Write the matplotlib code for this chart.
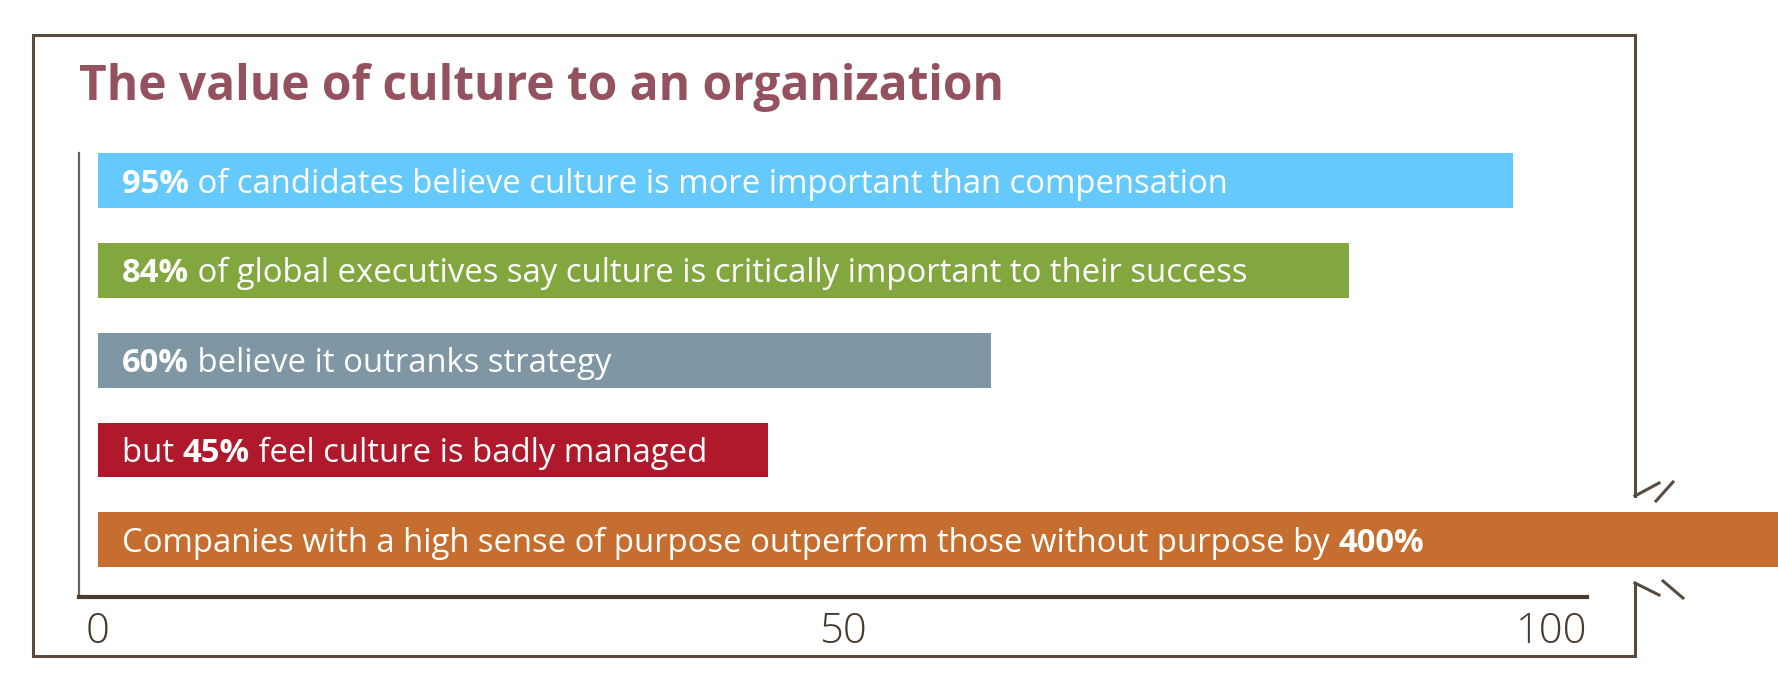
import matplotlib
matplotlib.use("Agg")
import matplotlib.pyplot as plt

# data
values = [95, 84, 60, 45, 400]
colors = ['#66c9fc', '#83a73f', '#7f96a4', '#b0182b', '#c66e30']
segments = [
    [("95%", True), (" of candidates believe culture is more important than compensation", False)],
    [("84%", True), (" of global executives say culture is critically important to their success", False)],
    [("60%", True), (" believe it outranks strategy", False)],
    [("but ", False), ("45%", True), (" feel culture is badly managed", False)],
    [("Companies with a high sense of purpose outperform those without purpose by ", False), ("400%", True)],
]
tick_vals = [0, 50, 100]
tick_labels = ['0', '50', '100']
title = 'The value of culture to an organization'

W, H = 1778, 691
fig = plt.figure(figsize=(W / 100, H / 100), dpi=100)
fig.patch.set_facecolor('white')

# frame drawn in pixel coordinates on an overlay
frame = fig.add_axes([0, 0, 1, 1], zorder=0)
frame.set_xlim(0, W)
frame.set_ylim(H, 0)
frame.axis('off')
fc = '#5a4b3f'
lw = 2.2
frame.plot([1635, 1635, 33, 33, 1635, 1635], [496, 35, 35, 656, 656, 583], color=fc, lw=lw,
           solid_joinstyle='miter')
frame.plot([1635, 1659], [496, 483], color=fc, lw=lw)
frame.plot([1656, 1673], [501, 482], color=fc, lw=lw)
frame.plot([1635, 1659], [583, 595], color=fc, lw=lw)
frame.plot([1663, 1683], [581, 598], color=fc, lw=lw)

fig.text(79 / W, 1 - 100 / H, title, color='#93525e', fontsize=34.5, fontweight='bold',
         family='Open Sans', va='baseline', ha='left')

ax = fig.add_axes([79 / W, 1 - 597 / H, (1587 - 79) / W, (597 - 153) / H], zorder=1)
ax.patch.set_visible(False)
ypos = list(range(len(values)))
ax.barh(ypos, values, height=0.61, color=colors, clip_on=False)
ax.set_xlim(-1.28, 100)
ax.set_ylim(4.64, -0.31)

# bar labels: bold and regular pieces chained one after another
for i, segs in enumerate(segments):
    prev = None
    for txt, bold in segs:
        kw = dict(color='white', fontsize=23.7, family='Open Sans',
                  fontweight='bold' if bold else 'normal', annotation_clip=False)
        if prev is None:
            prev = ax.annotate(txt, xy=(0, i), xytext=(17.3, -2.5), textcoords='offset points',
                               ha='left', va='center', **kw)
        else:
            prev = ax.annotate(txt, xy=(1, 0), xycoords=prev, ha='left', va='bottom', **kw)

for s in ['top', 'right']:
    ax.spines[s].set_visible(False)
ax.spines['left'].set_color('#6e6057')
ax.spines['left'].set_linewidth(1.6)
ax.spines['bottom'].set_color('#4a3a2c')
ax.spines['bottom'].set_linewidth(3)
ax.set_yticks([])
ax.set_xticks(tick_vals)
ax.set_xticklabels(tick_labels, fontsize=30, family='Open Sans', fontweight='light', color='#4a3a2c')
ax.tick_params(axis='x', length=0, pad=10)
ax.get_xticklabels()[-1].set_ha('right')

fig.savefig('out.png', dpi=100)
